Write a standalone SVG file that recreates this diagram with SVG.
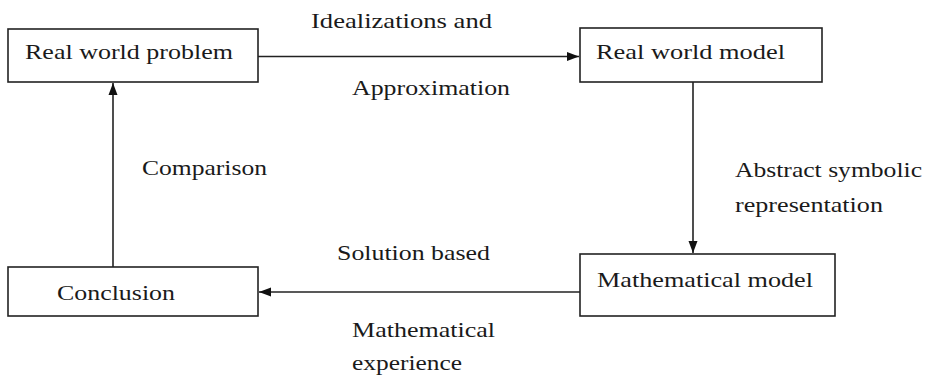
<svg xmlns="http://www.w3.org/2000/svg" width="931" height="378" viewBox="0 0 931 378">
<defs>
<style>
.box{fill:#fff;stroke:#222;stroke-width:1.6}
.t{font-family:"Liberation Serif","Times New Roman",serif;font-size:22px;fill:#1a1a1a}
.c{stroke:#222;stroke-width:1.6;fill:none}
</style>
<marker id="ah" viewBox="0 0 12 10" refX="12" refY="5" markerWidth="12" markerHeight="10" markerUnits="userSpaceOnUse" orient="auto">
<path d="M0,0.5 L12,5 L0,9.5 Z" fill="#111"/>
</marker>
</defs>
<rect width="931" height="378" fill="#fff"/>
<g id="connectors">
<line class="c" x1="258" y1="56.5" x2="579" y2="56.5" marker-end="url(#ah)"/>
<line class="c" x1="693" y1="82" x2="693" y2="253" marker-end="url(#ah)"/>
<line class="c" x1="580" y1="292" x2="259" y2="292" marker-end="url(#ah)"/>
<line class="c" x1="113" y1="267" x2="113" y2="83" marker-end="url(#ah)"/>
<text class="t" x="311" y="28" textLength="181" lengthAdjust="spacingAndGlyphs">Idealizations and</text>
<text class="t" x="352" y="95" textLength="158" lengthAdjust="spacingAndGlyphs">Approximation</text>
<text class="t" x="142" y="175" textLength="125" lengthAdjust="spacingAndGlyphs">Comparison</text>
<text class="t" x="735" y="177" textLength="187" lengthAdjust="spacingAndGlyphs">Abstract symbolic</text>
<text class="t" x="735" y="212" textLength="148" lengthAdjust="spacingAndGlyphs">representation</text>
<text class="t" x="337" y="260" textLength="153" lengthAdjust="spacingAndGlyphs">Solution based</text>
<text class="t" x="352" y="337" textLength="143" lengthAdjust="spacingAndGlyphs">Mathematical</text>
<text class="t" x="352" y="370" textLength="110" lengthAdjust="spacingAndGlyphs">experience</text>
</g>
<g id="real-world-problem">
<rect class="box" x="8" y="29" width="250" height="53"/>
<text class="t" x="25" y="59" textLength="208" lengthAdjust="spacingAndGlyphs">Real world problem</text>
</g>
<g id="real-world-model">
<rect class="box" x="580" y="28" width="242" height="54"/>
<text class="t" x="596" y="59" textLength="189" lengthAdjust="spacingAndGlyphs">Real world model</text>
</g>
<g id="mathematical-model">
<rect class="box" x="580" y="254" width="255" height="62"/>
<text class="t" x="597" y="287" textLength="216" lengthAdjust="spacingAndGlyphs">Mathematical model</text>
</g>
<g id="conclusion">
<rect class="box" x="8" y="267" width="250" height="49"/>
<text class="t" x="57" y="300" textLength="118" lengthAdjust="spacingAndGlyphs">Conclusion</text>
</g>
</svg>
